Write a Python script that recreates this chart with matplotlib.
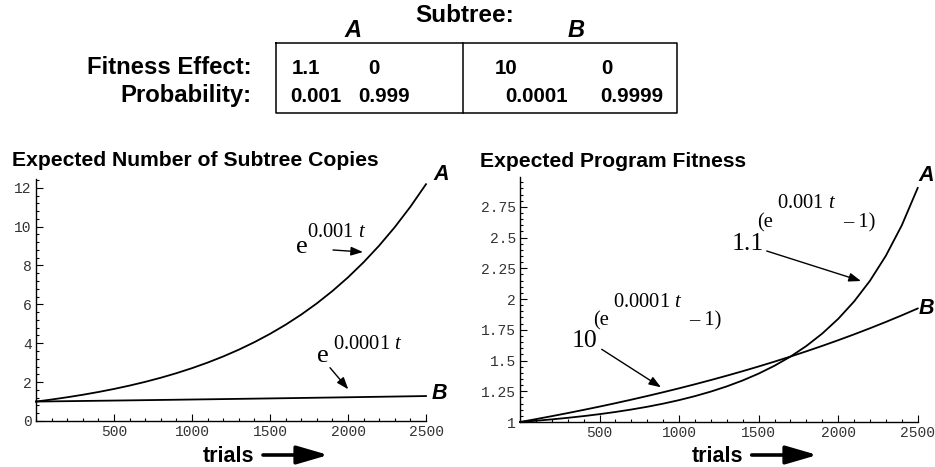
import matplotlib
matplotlib.use("Agg")
import matplotlib.pyplot as plt
from matplotlib.ticker import MultipleLocator, FixedLocator
from matplotlib.lines import Line2D

plt.rcParams['mathtext.fontset'] = 'custom'
plt.rcParams['mathtext.rm'] = 'Liberation Serif'
plt.rcParams['mathtext.it'] = 'Liberation Serif:italic'

# ---------------- data ----------------
trials = [0, 100, 200, 300, 400, 500, 600, 700, 800, 900, 1000, 1100, 1200,
          1300, 1400, 1500, 1600, 1700, 1800, 1900, 2000, 2100, 2200, 2300,
          2400, 2500]
copies_A = [1.0000, 1.1052, 1.2214, 1.3499, 1.4918, 1.6487, 1.8221, 2.0138,
            2.2255, 2.4596, 2.7183, 3.0042, 3.3201, 3.6693, 4.0552, 4.4817,
            4.9530, 5.4739, 6.0496, 6.6859, 7.3891, 8.1662, 9.0250, 9.9742,
            11.0232, 12.1825]
copies_B = [1.0000, 1.0101, 1.0202, 1.0305, 1.0408, 1.0513, 1.0618, 1.0725,
            1.0833, 1.0942, 1.1052, 1.1163, 1.1275, 1.1388, 1.1503, 1.1618,
            1.1735, 1.1853, 1.1972, 1.2092, 1.2214, 1.2337, 1.2461, 1.2586,
            1.2712, 1.2840]
fitness_A = [1.0000, 1.0101, 1.0213, 1.0339, 1.0480, 1.0638, 1.0815, 1.1015,
             1.1239, 1.1493, 1.1779, 1.2105, 1.2475, 1.2897, 1.3380, 1.3935,
             1.4576, 1.5317, 1.6181, 1.7193, 1.8385, 1.9798, 2.1487, 2.3522,
             2.5995, 2.9032]
fitness_B = [1.0000, 1.0234, 1.0476, 1.0726, 1.0985, 1.1253, 1.1530, 1.1817,
             1.2114, 1.2421, 1.2740, 1.3070, 1.3412, 1.3767, 1.4134, 1.4516,
             1.4911, 1.5322, 1.5748, 1.6190, 1.6650, 1.7127, 1.7623, 1.8138,
             1.8674, 1.9232]

x_ticks = [500, 1000, 1500, 2000, 2500]
left_y_ticks = [0, 2, 4, 6, 8, 10, 12]
right_y_ticks = [1, 1.25, 1.5, 1.75, 2, 2.25, 2.5, 2.75]
right_y_labels = ["1", "1.25", "1.5", "1.75", "2", "2.25", "2.5", "2.75"]

table_rows = ["Fitness Effect:", "Probability:"]
table_A = [["1.1", "0"], ["0.001", "0.999"]]
table_B = [["10", "0"], ["0.0001", "0.9999"]]

# ---------------- figure ----------------
W, H = 935, 467
fig = plt.figure(figsize=(W / 100, H / 100), dpi=100)


def fx(x):
    return x / W


def fy(y):
    return 1 - y / H


SANS = 'Liberation Sans'
SERIF = 'Liberation Serif'
MONO = 'Liberation Mono'


def style_axes(ax):
    for s in ('top', 'right'):
        ax.spines[s].set_visible(False)
    for s in ('left', 'bottom'):
        ax.spines[s].set_linewidth(1.0)
    ax.tick_params(which='both', direction='in', color='black', width=0.8,
                   labelsize=10.5, labelcolor='#333333', pad=3)
    ax.tick_params(which='major', length=5)
    ax.tick_params(which='minor', length=2.5)
    ax.xaxis.set_major_locator(FixedLocator(x_ticks))
    ax.xaxis.set_minor_locator(MultipleLocator(100))
    ax.set_xlim(0, 2500)


# left axes
ax1 = fig.add_axes([fx(36), fy(421), fx(426) - fx(36), fy(179) - fy(421)])
ax1.plot(trials, copies_A, color='black', lw=1.3, clip_on=False)
ax1.plot(trials, copies_B, color='black', lw=1.3, clip_on=False)
ax1.set_ylim(0, 12.45)
ax1.yaxis.set_major_locator(FixedLocator(left_y_ticks))
ax1.yaxis.set_minor_locator(MultipleLocator(0.4))
style_axes(ax1)
ax1.set_xticklabels([str(t) for t in x_ticks], fontfamily=MONO)
ax1.set_yticklabels([str(t) for t in left_y_ticks], fontfamily=MONO)

# right axes
ax2 = fig.add_axes([fx(520), fy(422), fx(917.7) - fx(520), fy(177.3) - fy(422)])
ax2.plot(trials, fitness_A, color='black', lw=1.3, clip_on=False)
ax2.plot(trials, fitness_B, color='black', lw=1.3, clip_on=False)
ax2.set_ylim(1, 2.99)
ax2.yaxis.set_major_locator(FixedLocator(right_y_ticks))
ax2.yaxis.set_minor_locator(MultipleLocator(0.05))
style_axes(ax2)
ax2.set_xticklabels([str(t) for t in x_ticks], fontfamily=MONO)
ax2.set_yticklabels(right_y_labels, fontfamily=MONO)


def T(x, y, s, **kw):
    kw.setdefault('va', 'baseline')
    kw.setdefault('ha', 'left')
    fig.text(fx(x), fy(y), s, **kw)


def arrow(x0, y0, x1, y1, **kw):
    props = dict(arrowstyle='-|>,head_length=0.6,head_width=0.22', lw=1.0,
                 color='black', shrinkA=0, shrinkB=0, mutation_scale=12)
    props.update(kw)
    fig.add_artist(matplotlib.patches.FancyArrowPatch(
        (fx(x0), fy(y0)), (fx(x1), fy(y1)), transform=fig.transFigure,
        **props))


# titles
T(12, 166, "Expected Number of Subtree Copies", family=SANS, weight='bold', fontsize=15.2)
T(480, 166.7, "Expected Program Fitness", family=SANS, weight='bold', fontsize=15.2)

# A / B labels near the curves
bi = dict(family=SANS, weight='bold', style='italic', fontsize=15.5)
T(433, 180, "A", **bi)
T(432, 399.3, "B", **bi)
T(918, 180.7, "A", **bi)
T(919, 314, "B", **bi)

# formula annotations (left)
T(296, 252.7, "e", family=SERIF, fontsize=19)
T(306.7, 236.7, "0.001 $t$", family=SERIF, fontsize=14.8)
arrow(333, 250, 363, 252)
T(317, 361.7, "e", family=SERIF, fontsize=19)
T(333, 349, "0.0001 $t$", family=SERIF, fontsize=14.8)
arrow(330, 367.7, 348.3, 389.3)

# formula annotations (right)
T(731.7, 250, "1.1", family=SERIF, fontsize=18.5)
T(756.7, 227, "(e", family=SERIF, fontsize=14.8)
T(776.7, 208.3, "0.001 $t$", family=SERIF, fontsize=14.8)
T(842.7, 227, "\u2013 1)", family=SERIF, fontsize=14.8)
arrow(766.7, 251, 861, 281)
T(571.7, 346.7, "10", family=SERIF, fontsize=18.5)
T(593.3, 325.7, "(e", family=SERIF, fontsize=14.8)
T(612.7, 306.7, "0.0001 $t$", family=SERIF, fontsize=14.8)
T(689.3, 325.7, "\u2013 1)", family=SERIF, fontsize=14.8)
arrow(601.7, 349.3, 661, 387.3)

# x axis labels "trials ->"
for (xl, xa0, xa1) in [(203, 263, 328.3), (691.7, 751.7, 817.3)]:
    T(xl, 461.7, "trials", family=SANS, weight='bold', fontsize=15.5)
    arrow(xa0, 455, xa1, 455, arrowstyle='-|>,head_length=1.2,head_width=0.35',
          lw=2.6, mutation_scale=16)

# ---------------- table at top ----------------
T(465, 21.7, "Subtree:", family=SANS, weight='bold', fontsize=17.5, ha='center')
T(353.3, 36.7, "A", family=SANS, weight='bold', style='italic', fontsize=17, ha='center')
T(575.8, 36.7, "B", family=SANS, weight='bold', style='italic', fontsize=17, ha='center')
row_base = [74, 101.7]
for lab, yb in zip(table_rows, row_base):
    T(252, yb, lab, family=SANS, weight='bold', fontsize=17.2, ha='right')
colsA = [[291.7, 368.3], [290.7, 358.3]]
colsB = [[495, 601.7], [505, 600]]
for r in range(2):
    for c in range(2):
        T(colsA[r][c], row_base[r], table_A[r][c], family=SANS, weight='bold', fontsize=14.8)
        T(colsB[r][c], row_base[r], table_B[r][c], family=SANS, weight='bold', fontsize=14.8)

box_x = [276, 677, 677, 276, 276]
box_y = [43, 43, 113, 113, 43]
fig.add_artist(Line2D([fx(v) for v in box_x], [fy(v) for v in box_y],
                      color='black', lw=1.1, transform=fig.transFigure))
fig.add_artist(Line2D([fx(463), fx(463)], [fy(43), fy(113)],
                      color='black', lw=1.1, transform=fig.transFigure))

fig.savefig("out.png", dpi=100)
